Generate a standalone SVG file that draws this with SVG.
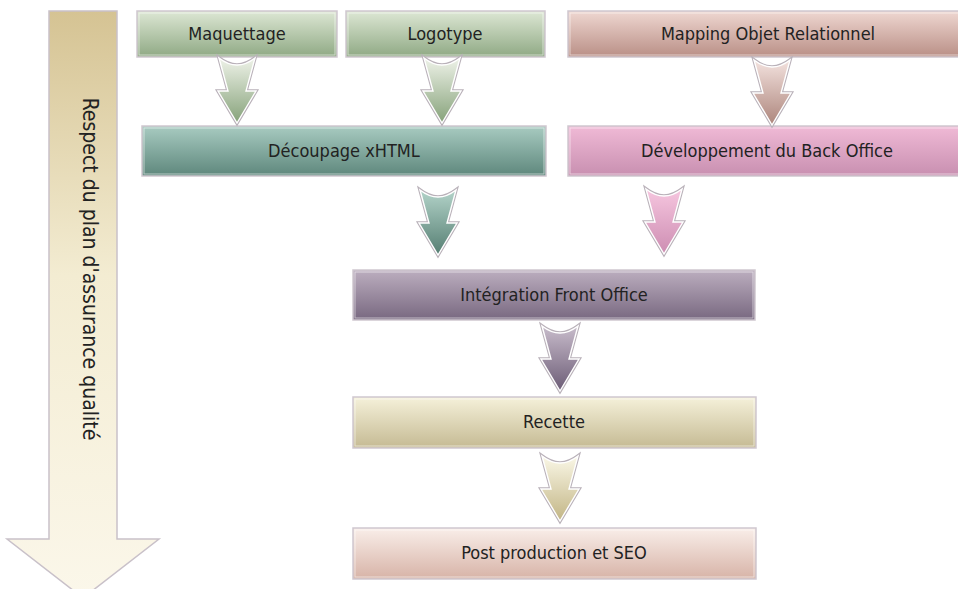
<svg xmlns="http://www.w3.org/2000/svg" xmlns:xlink="http://www.w3.org/1999/xlink" width="958" height="589" viewBox="0 0 958 589">
<style>
.box{stroke:#cfc7cf;stroke-width:1.5}
.inner{fill:none;stroke:#ffffff;stroke-opacity:0.55;stroke-width:1}
.lbl{font-family:"DejaVu Sans Condensed","DejaVu Sans",sans-serif;font-stretch:condensed;font-size:18px;fill:#222;text-anchor:middle}
.arr-o{fill:none;stroke:#b9b1b9;stroke-width:3.5;stroke-linejoin:miter}
.arr{stroke:#ffffff;stroke-width:1.4;stroke-linejoin:miter}
</style>
<defs>
<linearGradient id="gGreen" x1="0" y1="0" x2="0" y2="1"><stop offset="0" stop-color="#dde7d4"/><stop offset="1" stop-color="#8fa984"/></linearGradient>
<linearGradient id="gMap" x1="0" y1="0" x2="0" y2="1"><stop offset="0" stop-color="#efd7d1"/><stop offset="1" stop-color="#b98f86"/></linearGradient>
<linearGradient id="gTeal" x1="0" y1="0" x2="0" y2="1"><stop offset="0" stop-color="#a8cbc1"/><stop offset="1" stop-color="#5e877c"/></linearGradient>
<linearGradient id="gPink" x1="0" y1="0" x2="0" y2="1"><stop offset="0" stop-color="#f0bad6"/><stop offset="1" stop-color="#c88fb0"/></linearGradient>
<linearGradient id="gPurple" x1="0" y1="0" x2="0" y2="1"><stop offset="0" stop-color="#bcaebf"/><stop offset="1" stop-color="#786880"/></linearGradient>
<linearGradient id="gRec" x1="0" y1="0" x2="0" y2="1"><stop offset="0" stop-color="#f5f1da"/><stop offset="1" stop-color="#c5ba93"/></linearGradient>
<linearGradient id="gPost" x1="0" y1="0" x2="0" y2="1"><stop offset="0" stop-color="#f9eee9"/><stop offset="1" stop-color="#d7b3a7"/></linearGradient>
<linearGradient id="gQA" x1="0" y1="0" x2="0" y2="1"><stop offset="0" stop-color="#d5c393"/><stop offset="0.45" stop-color="#f3ecd2"/><stop offset="1" stop-color="#fbf7ea"/></linearGradient>
<linearGradient id="aGreen" x1="0" y1="0" x2="0" y2="1"><stop offset="0" stop-color="#eef2e8"/><stop offset="1" stop-color="#86a27a"/></linearGradient>
<linearGradient id="aTeal" x1="0" y1="0" x2="0" y2="1"><stop offset="0" stop-color="#b3d3c9"/><stop offset="1" stop-color="#557e72"/></linearGradient>
<linearGradient id="aMap" x1="0" y1="0" x2="0" y2="1"><stop offset="0" stop-color="#f3e2de"/><stop offset="1" stop-color="#ad857c"/></linearGradient>
<linearGradient id="aPink" x1="0" y1="0" x2="0" y2="1"><stop offset="0" stop-color="#f6c6df"/><stop offset="1" stop-color="#cd8db2"/></linearGradient>
<linearGradient id="aPurple" x1="0" y1="0" x2="0" y2="1"><stop offset="0" stop-color="#c8bccb"/><stop offset="1" stop-color="#6c5c76"/></linearGradient>
<linearGradient id="aRec" x1="0" y1="0" x2="0" y2="1"><stop offset="0" stop-color="#faf7e6"/><stop offset="1" stop-color="#c2b585"/></linearGradient>
<path id="arrowShape" d="M -18,0 Q 0,14 18,0 L 9,33 L 19,33 L 0,65 L -19,33 L -9,33 Z"/>
</defs>

<g id="qa-arrow">
<path d="M 49,11 L 117,11 L 117,539 L 159,539 L 83,598 L 7,539 L 49,539 Z" fill="url(#gQA)" stroke="#c9c1c9" stroke-width="1.5"/>
<text class="lbl" style="font-size:21px" transform="translate(83,269) rotate(90)" x="0" y="0">Respect du plan d'assurance qualité</text>
</g>

<g id="maquettage">
<rect class="box" x="137" y="11" width="200" height="46" fill="url(#gGreen)"/>
<rect class="inner" x="139" y="13" width="196" height="42"/>
<text class="lbl" x="237" y="40">Maquettage</text>
</g>
<g id="logotype">
<rect class="box" x="346" y="11" width="199" height="46" fill="url(#gGreen)"/>
<rect class="inner" x="348" y="13" width="195" height="42"/>
<text class="lbl" x="445" y="40">Logotype</text>
</g>
<g id="mapping">
<rect class="box" x="568" y="11" width="400" height="46" fill="url(#gMap)"/>
<rect class="inner" x="570" y="13" width="396" height="42"/>
<text class="lbl" x="768" y="40">Mapping Objet Relationnel</text>
</g>
<g id="decoupage">
<rect class="box" x="142" y="126" width="404" height="50" fill="url(#gTeal)"/>
<rect class="inner" x="144" y="128" width="400" height="46"/>
<text class="lbl" x="344" y="157">Découpage xHTML</text>
</g>
<g id="developpement">
<rect class="box" x="568" y="126" width="400" height="50" fill="url(#gPink)"/>
<rect class="inner" x="570" y="128" width="396" height="46"/>
<text class="lbl" x="767" y="157">Développement du Back Office</text>
</g>
<g id="integration">
<rect class="box" x="353" y="270" width="402" height="50" fill="url(#gPurple)"/>
<rect class="inner" x="355" y="272" width="398" height="46"/>
<text class="lbl" x="554" y="301">Intégration Front Office</text>
</g>
<g id="recette">
<rect class="box" x="353" y="397" width="403" height="51" fill="url(#gRec)"/>
<rect class="inner" x="355" y="399" width="399" height="47"/>
<text class="lbl" x="554" y="428">Recette</text>
</g>
<g id="post">
<rect class="box" x="353" y="528" width="403" height="51" fill="url(#gPost)"/>
<rect class="inner" x="355" y="530" width="399" height="47"/>
<text class="lbl" x="554" y="559">Post production et SEO</text>
</g>

<g id="connectors">
<g transform="translate(237,58)"><use xlink:href="#arrowShape" class="arr-o"/><use xlink:href="#arrowShape" class="arr" fill="url(#aGreen)"/></g>
<g transform="translate(442,58)"><use xlink:href="#arrowShape" class="arr-o"/><use xlink:href="#arrowShape" class="arr" fill="url(#aGreen)"/></g>
<g transform="translate(772,60)"><use xlink:href="#arrowShape" class="arr-o"/><use xlink:href="#arrowShape" class="arr" fill="url(#aMap)"/></g>
<g transform="translate(438,190)"><use xlink:href="#arrowShape" class="arr-o"/><use xlink:href="#arrowShape" class="arr" fill="url(#aTeal)"/></g>
<g transform="translate(664,189)"><use xlink:href="#arrowShape" class="arr-o"/><use xlink:href="#arrowShape" class="arr" fill="url(#aPink)"/></g>
<g transform="translate(560,326)"><use xlink:href="#arrowShape" class="arr-o"/><use xlink:href="#arrowShape" class="arr" fill="url(#aPurple)"/></g>
<g transform="translate(560,456)"><use xlink:href="#arrowShape" class="arr-o"/><use xlink:href="#arrowShape" class="arr" fill="url(#aRec)"/></g>
</g>
</svg>
